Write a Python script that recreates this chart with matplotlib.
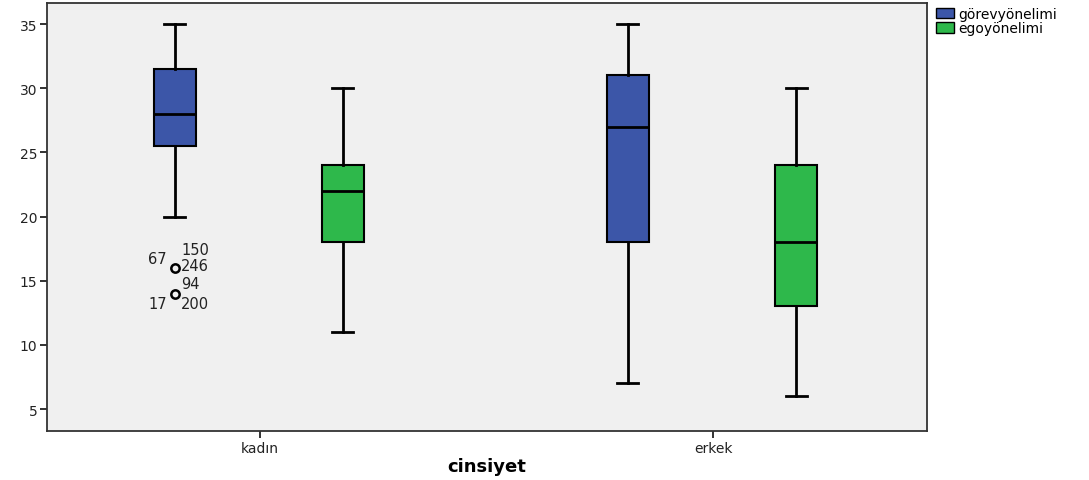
import matplotlib
matplotlib.use("Agg")
import matplotlib.pyplot as plt
from matplotlib.patches import Patch

groups = ["kadın", "erkek"]
series = ["görevyönelimi", "egoyönelimi"]
colors = ["#3C56A8", "#2EB84B"]

# per series: [kadın, erkek]
whislo = {"görevyönelimi": [20, 7], "egoyönelimi": [11, 6]}
q1 = {"görevyönelimi": [25.5, 18], "egoyönelimi": [18, 13]}
med = {"görevyönelimi": [28, 27], "egoyönelimi": [22, 18]}
q3 = {"görevyönelimi": [31.5, 31], "egoyönelimi": [24, 24]}
whishi = {"görevyönelimi": [35, 35], "egoyönelimi": [30, 30]}
fliers = {"görevyönelimi": [[16, 14], []], "egoyönelimi": [[], []]}
# outlier case labels: (label, label y position, side)
outlier_labels = [("150", 17.45, "right"), ("67", 16.7, "left"), ("246", 16.2, "right"),
                  ("94", 14.8, "right"), ("17", 13.25, "left"), ("200", 13.25, "right")]

fig = plt.figure(figsize=(10.89, 4.81), dpi=100)
W, H = 1089, 481
ax = fig.add_axes([47 / W, 1 - 432 / H, (927 - 47) / W, (432 - 4) / H])
ax.set_facecolor("#F0F0F0")

offsets = [-0.188, 0.183]
bw = 0.093
for si, s in enumerate(series):
    stats = []
    pos = []
    for gi, g in enumerate(groups):
        stats.append(dict(whislo=whislo[s][gi], q1=q1[s][gi], med=med[s][gi],
                          q3=q3[s][gi], whishi=whishi[s][gi], fliers=fliers[s][gi]))
        pos.append(gi + offsets[si])
    ax.bxp(stats, positions=pos, widths=bw, capwidths=bw * 0.5, patch_artist=True,
           showfliers=True, manage_ticks=False,
           boxprops=dict(facecolor=colors[si], edgecolor="black", linewidth=1.5),
           medianprops=dict(color="black", linewidth=2),
           whiskerprops=dict(color="black", linewidth=2),
           capprops=dict(color="black", linewidth=2),
           flierprops=dict(marker="o", markerfacecolor="none", markeredgecolor="black",
                           markersize=6, markeredgewidth=1.8))

# outlier labels
xo = 0 + offsets[0]
for lab, ypos, side in outlier_labels:
    if side == "left":
        ax.text(xo - 0.018, ypos, lab, ha="right", va="center", fontsize=10.5, color="#222222")
    else:
        ax.text(xo + 0.014, ypos, lab, ha="left", va="center", fontsize=10.5, color="#222222")

ax.set_xlim(-0.470, 1.472)
ax.set_ylim(3.29, 36.64)
ax.set_yticks([5, 10, 15, 20, 25, 30, 35])
ax.set_xticks([0, 1])
ax.set_xticklabels(groups)
ax.tick_params(axis="both", labelsize=10, colors="#222222", length=5, width=1.3, pad=2)
for sp in ax.spines.values():
    sp.set_linewidth(1.3)
    sp.set_color("#333333")
ax.set_xlabel("cinsiyet", fontsize=13, fontweight="bold", va="center")
ax.xaxis.set_label_coords(0.5, -(467 - 432) / 428)

handles = [Patch(facecolor=c, edgecolor="black", label=s) for c, s in zip(colors, series)]
fig.legend(handles=handles, loc="upper left", bbox_to_anchor=(928 / W, 1.0),
           frameon=False, fontsize=10, handlelength=1.3, handleheight=0.8,
           handletextpad=0.35, labelspacing=0.05, borderaxespad=0.15)

fig.savefig("out.png", dpi=100, facecolor="white")
